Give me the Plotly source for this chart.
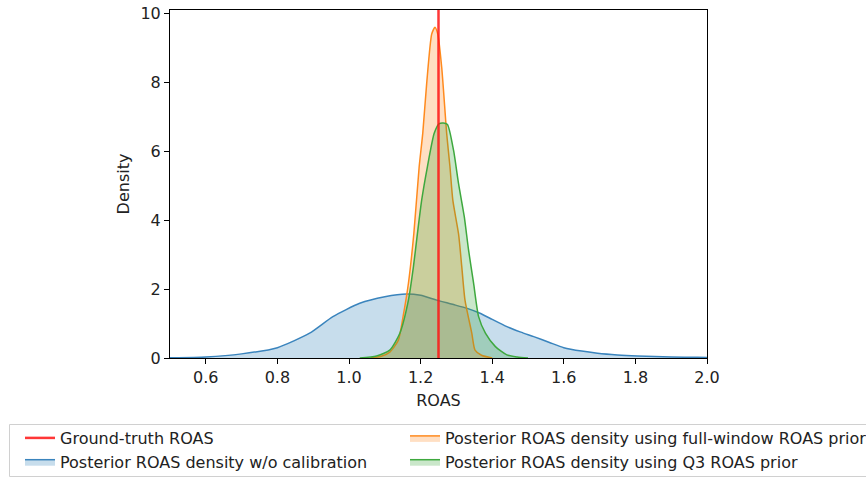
import plotly.graph_objects as go

# ---- data ----
truth_roas = 1.25

blue_x = [0.45, 0.5, 0.6, 0.7, 0.8, 0.89, 0.955, 1.03, 1.1, 1.161, 1.2, 1.245, 1.292, 1.33, 1.366, 1.40, 1.441, 1.48, 1.516, 1.56, 1.6, 1.65, 1.694, 1.75, 1.806, 1.9, 1.974, 2.05]
blue_y = [0.0, 0.005, 0.03, 0.12, 0.3, 0.72, 1.2, 1.59, 1.78, 1.86, 1.82, 1.68, 1.55, 1.44, 1.3, 1.12, 0.91, 0.75, 0.62, 0.45, 0.3, 0.2, 0.14, 0.09, 0.06, 0.03, 0.02, 0.01]

orange_x = [1.06, 1.09, 1.114, 1.138, 1.151, 1.166, 1.181, 1.196, 1.206, 1.217, 1.231, 1.24, 1.248, 1.259, 1.273, 1.282, 1.29, 1.306, 1.315, 1.324, 1.343, 1.352, 1.37, 1.40]
orange_y = [0.0, 0.05, 0.17, 0.52, 1.2, 2.17, 3.6, 5.55, 6.52, 7.97, 9.4, 9.6, 9.4, 8.43, 6.5, 5.55, 4.58, 3.6, 2.65, 1.68, 0.72, 0.23, 0.08, 0.0]

green_x = [1.03, 1.077, 1.114, 1.142, 1.166, 1.18, 1.191, 1.203, 1.219, 1.238, 1.252, 1.263, 1.275, 1.292, 1.306, 1.322, 1.334, 1.348, 1.362, 1.381, 1.409, 1.441, 1.47, 1.50]
green_y = [0.0, 0.06, 0.23, 0.72, 1.68, 2.65, 3.6, 4.58, 5.55, 6.52, 6.8, 6.82, 6.78, 6.03, 5.06, 4.1, 3.13, 2.17, 1.2, 0.72, 0.33, 0.09, 0.03, 0.0]

x_ticks = [0.6, 0.8, 1.0, 1.2, 1.4, 1.6, 1.8, 2.0]
y_ticks = [0, 2, 4, 6, 8, 10]

names = {
    "truth": "Ground-truth ROAS",
    "blue": "Posterior ROAS density w/o calibration",
    "orange": "Posterior ROAS density using full-window ROAS prior",
    "green": "Posterior ROAS density using Q3 ROAS prior",
}

FONT = "DejaVu Sans"
FS = 16
fig = go.Figure()

def area(x, y, color, fillc, name, legend, group):
    fig.add_trace(go.Scatter(
        x=x, y=y, mode="lines", name=name, legend=legend, legendgroup=group,
        line=dict(color=color, width=1.5, shape="spline", smoothing=0.6),
        fill="tozeroy", fillcolor=fillc,
    ))

area(blue_x, blue_y, "#3a84bd", "rgba(31,119,180,0.25)", names["blue"], "legend", "b")
area(orange_x, orange_y, "#ff8a1e", "rgba(255,127,14,0.25)", names["orange"], "legend2", "a")
area(green_x, green_y, "#3ea83e", "rgba(44,160,44,0.25)", names["green"], "legend2", "b")

fig.add_trace(go.Scatter(
    x=[truth_roas, truth_roas], y=[0, 10.1], mode="lines", name=names["truth"],
    legend="legend", legendgroup="a", legendrank=1,
    line=dict(color="rgba(255,20,20,0.85)", width=2.5),
))

axis_common = dict(
    showline=True, mirror=True, linecolor="black", linewidth=1,
    ticks="outside", ticklen=5, tickwidth=1, tickcolor="black",
    showgrid=False, zeroline=False, ticklabeloverflow="allow",
    tickfont=dict(family=FONT, size=FS, color="#222"),
    title_font=dict(family=FONT, size=FS, color="#222"),
)

W, H = 866, 479
PL, PR, PT, PB = 170, 707, 10, 358          # plot area in page pixels
ML, MT = PL, PT
MR, MB = W - PR, H - PB
PW, PH = W - ML - MR, H - MT - MB

def px_x(p):
    return (p - ML) / PW

def px_y(p):
    return (H - MB - p) / PH

legend_common = dict(
    orientation="v", xanchor="left", yanchor="top",
    bgcolor="rgba(0,0,0,0)", borderwidth=0,
    font=dict(family=FONT, size=FS, color="#222"),
    tracegroupgap=0, traceorder="grouped",
)

fig.update_layout(
    width=W, height=H,
    margin=dict(l=ML, r=MR, t=MT, b=MB, autoexpand=False),
    plot_bgcolor="white", paper_bgcolor="white",
    font=dict(family=FONT, size=FS, color="#222"),
    xaxis=dict(range=[0.5, 2.0], tickvals=x_ticks, ticktext=[f"{v:.1f}" for v in x_ticks],
               title=dict(text="ROAS", standoff=8), **axis_common),
    yaxis=dict(range=[0, 10.1], tickvals=y_ticks, title=dict(text="Density", standoff=6),
               **axis_common),
    legend=dict(x=px_x(20), y=px_y(421), **legend_common),
    legend2=dict(x=px_x(405), y=px_y(421), **legend_common),
    shapes=[dict(
        type="rect", xref="paper", yref="paper",
        x0=px_x(9.5), x1=px_x(890), y0=px_y(476.5), y1=px_y(424.5),
        line=dict(color="#d0d0d0", width=1), layer="below",
    )],
)

fig.write_html("out.html", config={"displayModeBar": False},
               post_script="document.body.style.margin='0';")
